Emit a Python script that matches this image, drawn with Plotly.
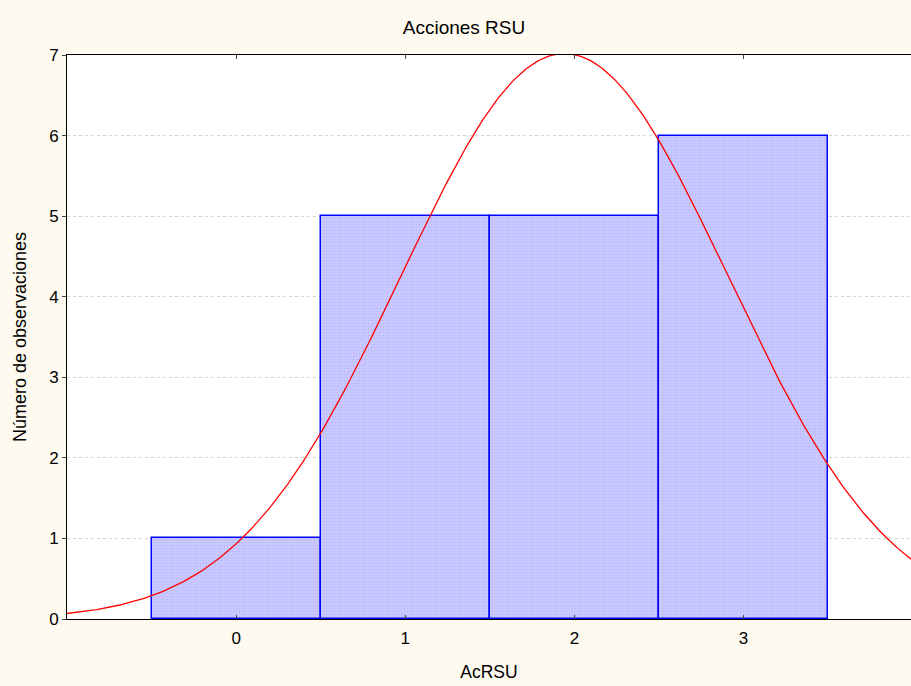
import numpy as np
import plotly.graph_objects as go

categories = [0, 1, 2, 3]
counts = [1, 5, 5, 6]
x_ticks = [0, 1, 2, 3]
y_ticks = [0, 1, 2, 3, 4, 5, 6, 7]
title = "Acciones RSU"
x_title = "AcRSU"
y_title = "Número de observaciones"

# fitted normal curve derived from the histogram data
vals = np.repeat(categories, counts)
n = len(vals)
mu = vals.mean()
sd = vals.std(ddof=1)
xc = np.linspace(-1, 4, 400)
yc = n * 1.0 * np.exp(-0.5 * ((xc - mu) / sd) ** 2) / (sd * np.sqrt(2 * np.pi))

fig = go.Figure()
fig.add_trace(go.Bar(
    x=categories, y=counts, width=1.0,
    marker=dict(color="#C0C0FF", line=dict(color="#0000FF", width=1.5),
                pattern=dict(shape=".", size=3, solidity=0.5, fgcolor="#AAAAFF", bgcolor="#CECEFF")),
    showlegend=False, hoverinfo="skip",
))
fig.add_trace(go.Scatter(x=xc, y=yc, mode="lines", line=dict(color="#FF0000", width=1.3),
                         showlegend=False, hoverinfo="skip"))

fig.update_layout(
    width=911, height=686,
    paper_bgcolor="#FFFAF0", plot_bgcolor="#FFFFFF",
    margin=dict(l=67, r=0, t=55, b=67),
    font=dict(family="Liberation Sans, Arial, sans-serif", size=18, color="#000000"),
    title=dict(text=title, x=464/911, xanchor="center", xref="container",
               y=1 - 27/686, yanchor="middle", font=dict(size=19)),
    bargap=0,
)
fig.update_xaxes(range=[-1, 3.99], tickvals=x_ticks, ticks="inside", ticklen=4,
                 showgrid=False, zeroline=False, showline=True, linecolor="#000000",
                 linewidth=1, mirror="ticks", ticklabelstandoff=4,
                 title=dict(text=x_title, standoff=18, font=dict(size=17.5)),
                 tickfont=dict(size=17))
fig.update_yaxes(range=[0, 7], tickvals=y_ticks, ticks="outside", ticklen=4,
                 showgrid=True, gridcolor="#D2D2D2", griddash="dot", gridwidth=1,
                 zeroline=False, showline=True, linecolor="#000000", linewidth=1,
                 mirror=True,
                 title=dict(text=y_title, standoff=17, font=dict(size=18)),
                 tickfont=dict(size=17))
fig.write_html("out.html", config={"displayModeBar": False},
               post_script="document.body.style.margin='0';document.body.style.background='#FFFAF0';")
